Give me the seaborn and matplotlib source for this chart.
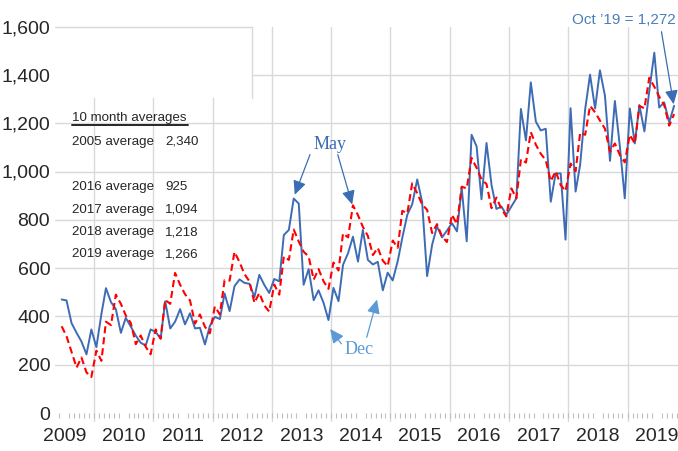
import pandas as pd
import matplotlib.pyplot as plt
import seaborn as sns
from matplotlib.patches import Rectangle
from matplotlib.lines import Line2D
from matplotlib.ticker import FuncFormatter

# monthly values, Jun 2009 .. Oct 2019
monthly = [470, 466, 372, 332, 296, 243, 346, 273, 410, 517, 459, 430,
           332, 394, 358, 320, 291, 279, 346, 336, 308, 463, 350, 378,
           430, 367, 413, 350, 353, 284, 360, 398, 389, 495, 422, 525,
           553, 539, 535, 480, 572, 530, 497, 555, 545, 737, 758, 888,
           867, 531, 596, 467, 508, 456, 385, 518, 463, 614, 662, 730,
           627, 758, 634, 615, 626, 508, 581, 549, 629, 725, 821, 864,
           967, 875, 567, 697, 773, 727, 755, 786, 752, 933, 711, 1152,
           1104, 885, 1118, 944, 845, 855, 821, 855, 889, 1259, 1129, 1369,
           1207, 1170, 1177, 875, 992, 992, 718, 1262, 917, 1028, 1258, 1401,
           1261, 1419, 1313, 1044, 1292, 1102, 889, 1261, 1116, 1275, 1166, 1333,
           1492, 1265, 1286, 1204, 1272]
averaged = [359, 318, 253, 188, 230, 168, 149, 258, 216, 378, 364, 490,
            452, 404, 373, 285, 321, 274, 243, 346, 308, 468, 452, 580,
            531, 492, 466, 370, 408, 357, 330, 441, 408, 550, 548, 667,
            625, 576, 545, 456, 497, 445, 420, 532, 490, 648, 634, 760,
            710, 668, 648, 552, 596, 545, 514, 623, 590, 744, 727, 860,
            819, 771, 733, 654, 684, 631, 608, 714, 684, 837, 827, 951,
            910, 864, 841, 745, 782, 731, 708, 821, 782, 937, 930, 1056,
            1015, 968, 948, 848, 892, 845, 814, 930, 889, 1051, 1037, 1163,
            1111, 1074, 1047, 960, 1001, 944, 919, 1033, 1001, 1160, 1152, 1272,
            1245, 1211, 1177, 1082, 1116, 1068, 1038, 1152, 1116, 1272, 1261, 1388,
            1351, 1310, 1275, 1190, 1238]
dates = pd.date_range('2009-06-01', '2019-10-01', freq='MS') + pd.Timedelta(days=14)
years = list(range(2009, 2020))
yticks = list(range(0, 1601, 200))

avg_lines = ['2005 average', '', '2016 average', '2017 average', '2018 average', '2019 average']
avg_values = ['2,340', '', '925', '1,094', '1,218', '1,266']

df = pd.DataFrame({'date': dates, 'monthly': monthly, 'avg': averaged})

sns.set_theme(style='white')
plt.rcParams['font.family'] = ['Liberation Sans', 'DejaVu Sans']

W, H = 678, 451
fig = plt.figure(figsize=(W / 100, H / 100), dpi=100)
ax = fig.add_axes([55 / W, 1 - 413 / H, 623 / W, 386.4 / H])

sns.lineplot(data=df, x='date', y='monthly', ax=ax, color='#3d6cb4', lw=1.4)
sns.lineplot(data=df, x='date', y='avg', ax=ax, color='#ff0000', lw=1.5,
             linestyle=(0, (3.4, 1.9)))

ax.set_ylim(0, 1600)
ax.set_xlim(pd.Timestamp('2009-05-05'), pd.Timestamp('2019-11-08'))
ax.set_xlabel('')
ax.set_ylabel('')
for s in ax.spines.values():
    s.set_visible(False)

# gridlines
grid_c = '#d9d9d9'
for v in yticks[1:-1]:
    ax.axhline(v, color=grid_c, lw=1, zorder=0.5)
for y in years[1:]:
    ax.axvline(pd.Timestamp(f'{y}-01-01'), ymin=-0.02, ymax=1, color=grid_c, lw=1,
               zorder=0.5, clip_on=False)

# white block in the top-left corner
tr = ax.get_yaxis_transform()
ax.add_patch(Rectangle((0, 1305), 0.316, 295, transform=tr, facecolor='white',
                       edgecolor='none', zorder=1))
ax.plot([0, 0.316], [1600, 1600], transform=tr, color=grid_c, lw=1, zorder=1.1, clip_on=False)
ax.plot([0.316, 0.316], [1305, 1600], transform=tr, color=grid_c, lw=1, zorder=1.1, clip_on=False)

# ticks
ax.set_yticks(yticks)
ax.yaxis.set_major_formatter(FuncFormatter(lambda v, p: f'{v:,.0f}'))
ax.tick_params(axis='y', length=0, pad=3.5, labelsize=14, labelcolor='#262626')
ax.set_xticks([pd.Timestamp(f'{y}-07-01') for y in years], labels=[str(y) for y in years])
ax.set_xticks(pd.date_range('2009-06-01', '2019-11-01', freq='MS'), minor=True)
ax.tick_params(axis='x', which='major', length=0, pad=11, labelsize=14, labelcolor='#262626')
ax.tick_params(axis='x', which='minor', length=3.5, width=0.8, color='#bfbfbf', bottom=True)

# averages text block
def px(x, y):
    return x / W, 1 - y / H

txt_c = '#262626'
fs = 9.6
fig.text(*px(72, 121), '10 month averages', fontsize=fs, color=txt_c, va='baseline')
fig.add_artist(Line2D([72 / W, 188 / W], [1 - 125 / H, 1 - 125 / H], color='#262626', lw=1.4))
for i, (lab, val) in enumerate(zip(avg_lines, avg_values)):
    yy = 145 + i * 22.5
    fig.text(*px(72, yy), lab, fontsize=fs, color=txt_c, va='baseline')
    fig.text(*px(165, yy), val, fontsize=fs, color=txt_c, va='baseline')

# May / Dec annotations
may_c = '#3a6db3'
dec_c = '#5b9bd5'
arrow = '-|>,head_length=0.6,head_width=0.28'
fig.text(*px(314, 149), 'May', fontsize=13, color=may_c, family='Liberation Serif', va='baseline')
ax.annotate('', xy=(dates[47], monthly[47] + 5), xytext=(311, H - 152), textcoords='figure pixels',
            arrowprops=dict(arrowstyle=arrow, color=may_c, lw=0.9, mutation_scale=14))
ax.annotate('', xy=(dates[59], averaged[59] - 8), xytext=(337, H - 152), textcoords='figure pixels',
            arrowprops=dict(arrowstyle=arrow, color=may_c, lw=0.9, mutation_scale=14))

fig.text(*px(345, 354), 'Dec', fontsize=13, color=dec_c, family='Liberation Serif', va='baseline')
ax.annotate('', xy=(dates[54], monthly[54] - 28), xytext=(343, H - 346), textcoords='figure pixels',
            arrowprops=dict(arrowstyle=arrow, color=dec_c, lw=0.9, mutation_scale=14))
ax.annotate('', xy=(dates[64], 481), xytext=(366, H - 340), textcoords='figure pixels',
            arrowprops=dict(arrowstyle=arrow, color=dec_c, lw=0.9, mutation_scale=14))

fig.text(*px(676, 24), 'Oct \u201919 = 1,272', fontsize=11, color='#4a7ebb', ha='right', va='baseline')
ax.annotate('', xy=(dates[-1], monthly[-1] - 5), xytext=(661, H - 29), textcoords='figure pixels',
            arrowprops=dict(arrowstyle=arrow, color='#3a6db3', lw=0.9, mutation_scale=14))

fig.savefig('out.png', dpi=100)
